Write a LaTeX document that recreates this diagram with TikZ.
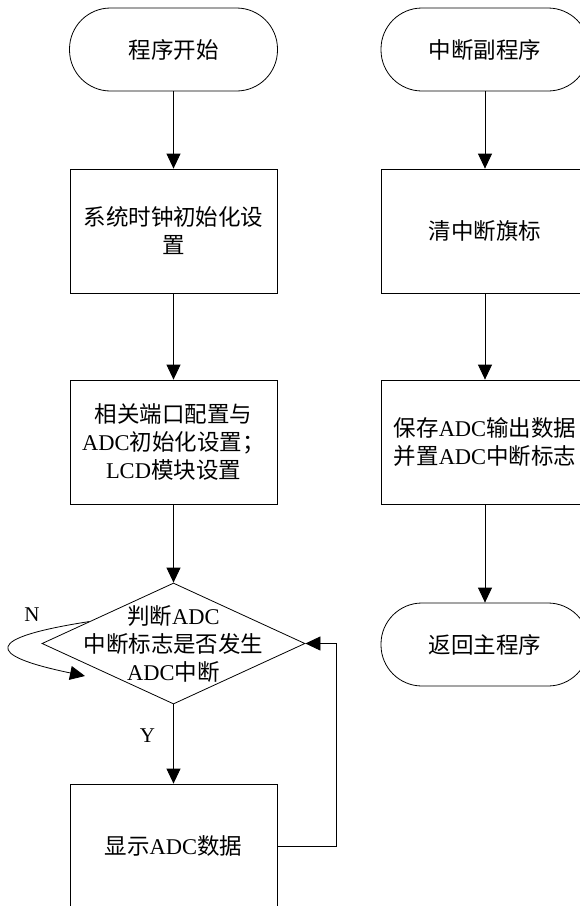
\documentclass[tikz,border=0pt]{standalone}
\usepackage{fontspec}
\setmainfont{Liberation Serif}
\newfontfamily\cjkfont{Noto Sans CJK SC}
\newcommand\hz[1]{{\cjkfont #1}}
\usetikzlibrary{arrows.meta,shapes.geometric,calc}

\begin{document}
\begin{tikzpicture}[x=1pt,y=-1pt,
  every node/.style={font=\fontsize{22.5}{28}\selectfont, inner sep=0pt},
  proc/.style={draw, line width=0.8pt, minimum width=207pt, minimum height=124pt, align=center},
  term/.style={draw, line width=0.8pt, rounded corners=41pt, minimum width=208pt, minimum height=83pt},
  decision/.style={draw, diamond, line width=0.8pt, minimum width=263pt, minimum height=121pt},
  flow/.style={draw, line width=0.8pt, -{Triangle[width=14pt,length=15pt]}},
  tag/.style={font=\fontsize{21}{24}\selectfont}
]
\useasboundingbox (0,0) rectangle (579,906);

% main program
\node[term] (start) at (173.5,49.5) {\hz{程序开始}};
\node[proc] (clk) at (173.5,231) {\hz{系统时钟初始化设}\\\hz{置}};
\node[proc] (cfg) at (173.5,442) {\hz{相关端口配置与}\\ADC\hz{初始化设置；}\\LCD\hz{模块设置}};
\node[decision] (dec) at (173.5,643.5) {};
\node[align=center] (dectext) at (dec.center) {\hz{判断}ADC\\\hz{中断标志是否发生}\\ADC\hz{中断}};
\node[proc] (show) at (173.5,846) {\hz{显示}ADC\hz{数据}};

% interrupt routine
\node[term] (isr) at (485,49.5) {\hz{中断副程序}};
\node[proc] (clr) at (485,231) {\hz{清中断旗标}};
\node[proc] (save) at (485,442) {\hz{保存}ADC\hz{输出数据}\\\hz{并置}ADC\hz{中断标志}};
\node[term] (ret) at (485,644.5) {\hz{返回主程序}};

% main program flow
\draw[flow] (start) -- (clk);
\draw[flow] (clk) -- (cfg);
\draw[flow] (cfg) -- (dec);
\draw[flow] (dec) -- node[tag, pos=0.39, left=18pt] (ylab) {Y} (show);
\draw[flow] (show.east) -- ++(59,0) |- (dec.east);

% wait loop while no conversion has finished
\coordinate (nfrom) at ($(dec.west)!0.36!(dec.north)$);
\coordinate (nto) at (85,676);
\draw[flow] (nfrom) .. controls (-16,638) and (-16,655) .. (nto);
\node[tag] (nlab) at (32,615) {N};

% interrupt routine flow
\draw[flow] (isr) -- (clr);
\draw[flow] (clr) -- (save);
\draw[flow] (save) -- (ret);
\end{tikzpicture}
\end{document}
